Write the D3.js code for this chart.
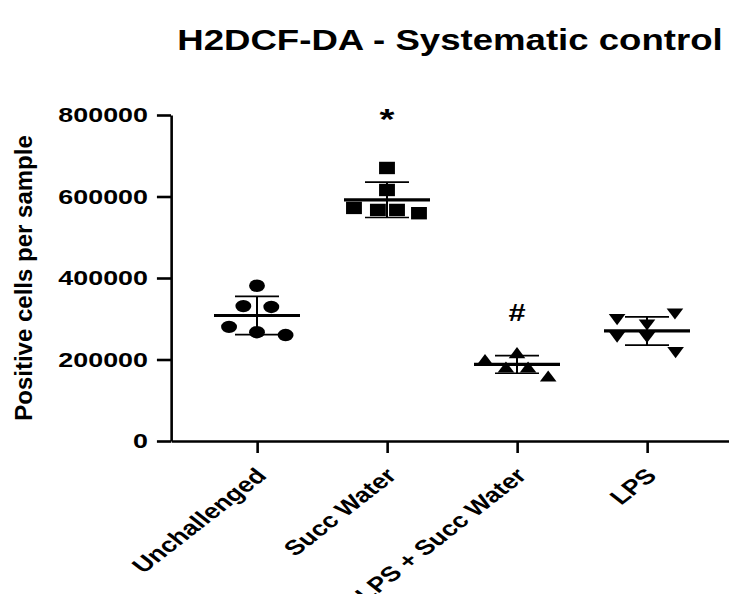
<!DOCTYPE html>
<html>
<head>
<meta charset="utf-8">
<script src="https://cdn.jsdelivr.net/npm/d3@7"></script>
<style>
  html, body { margin: 0; padding: 0; background: #fff; }
  svg { display: block; }
  text { font-family: "Liberation Sans", Arial, sans-serif; font-weight: bold; fill: #000; }
  .axis path, .axis line { stroke: #000; stroke-width: 2.6px; vector-effect: non-scaling-stroke; fill: none; }
  .bar { stroke: #000; vector-effect: non-scaling-stroke; fill: none; }
</style>
</head>
<body>
<svg id="chart" width="729" height="594"></svg>
<script>
// ---------- data ----------
const title = "H2DCF-DA - Systematic control";
const yLabel = "Positive cells per sample";
const categories = ["Unchallenged", "Succ Water", "LPS + Succ Water", "LPS"];
const yTicks = [0, 200000, 400000, 600000, 800000];

const unchallenged = [381000, 331000, 329000, 280000, 267000, 260000];
const succWater    = [670000, 616000, 572000, 567000, 567000, 559000];
const lpsSuccWater = [217000, 200000, 181600, 181600, 159500];
const lps          = [311700, 298000, 284700, 255000, 254000, 217000];

// horizontal scatter offsets, in category-step units
const unchallengedJitter = [0, -0.105, 0.11, -0.215, 0, 0.22];
const succWaterJitter    = [0, 0, -0.254, -0.07, 0.077, 0.246];
const lpsSuccWaterJitter = [0, -0.246, -0.085, 0.085, 0.24];
const lpsJitter          = [0.215, -0.23, 0, -0.23, 0, 0.22];

const markerShapes = ["circle", "square", "triangle", "triangleDown"];
const annotationLabels = ["", "*", "#", ""];
const annotationLevels = [null, 792000, 315000, null];

const groups = [
  { cat: categories[0], values: unchallenged, jitter: unchallengedJitter, shape: markerShapes[0] },
  { cat: categories[1], values: succWater,    jitter: succWaterJitter,    shape: markerShapes[1] },
  { cat: categories[2], values: lpsSuccWater, jitter: lpsSuccWaterJitter, shape: markerShapes[2] },
  { cat: categories[3], values: lps,          jitter: lpsJitter,          shape: markerShapes[3] }
];

// ---------- layout ----------
const W = 729, H = 594;
const SX = 1.28;              // horizontal stretch of the original figure
const gx = v => v / SX;       // real px -> stretched-group px

const svg = d3.select("#chart");
svg.append("rect").attr("width", W).attr("height", H).attr("fill", "#fff");
const g = svg.append("g").attr("transform", `scale(${SX},1)`);

const x = d3.scalePoint().domain(categories).range([gx(171), gx(733)]).padding(0.6615);
const y = d3.scaleLinear().domain([0, 800000]).range([441, 115]);

// title
g.append("text")
  .attr("x", (gx(171) + gx(729)) / 2)
  .attr("y", 50)
  .attr("text-anchor", "middle")
  .style("font-size", "28.6px")
  .text(title);

// y axis
const yAxisG = g.append("g").attr("class", "axis")
  .attr("transform", `translate(${gx(171)},0)`)
  .call(d3.axisLeft(y).tickValues(yTicks).tickFormat(d3.format("d"))
    .tickSize(11).tickSizeOuter(0).tickPadding(7));
yAxisG.selectAll(".tick text").style("font-size", "21px");

// x axis
const xAxisG = g.append("g").attr("class", "axis")
  .attr("transform", `translate(0,${y(0)})`)
  .call(d3.axisBottom(x).tickSize(12).tickSizeOuter(0));
xAxisG.selectAll(".tick text")
  .attr("x", 0).attr("y", 0).attr("dy", 0)
  .attr("text-anchor", "end")
  .attr("transform", "translate(8,36) rotate(-45)")
  .style("font-size", "21px");
svg.selectAll(".axis text").attr("fill", "#000");

// y label (not stretched)
svg.append("text")
  .attr("transform", `translate(32,${(115 + 441) / 2}) rotate(-90)`)
  .attr("text-anchor", "middle")
  .style("font-size", "24px")
  .text(yLabel);

// markers
const S = 12.4;  // marker size in group units
function markerPath(shape) {
  const h = S / 2;
  if (shape === "circle") return d3.symbol(d3.symbolCircle, Math.PI * h * h)();
  if (shape === "square") return `M${-h},${-h}H${h}V${h}H${-h}Z`;
  const th = 11.2 / 2;
  if (shape === "triangle") return `M0,${-th}L${h + 0.3},${th}L${-h - 0.3},${th}Z`;
  return `M0,${th}L${h + 0.3},${-th}L${-h - 0.3},${-th}Z`;
}

groups.forEach(grp => {
  const cx = x(grp.cat);
  g.append("g").selectAll("path")
    .data(grp.values)
    .join("path")
    .attr("d", markerPath(grp.shape))
    .attr("transform", (d, i) => `translate(${cx + grp.jitter[i] * x.step()},${y(d)})`)
    .attr("fill", "#000");

  const m = d3.mean(grp.values), sd = d3.deviation(grp.values);
  const bars = g.append("g");
  const meanHalf = gx(43), capHalf = gx(22);
  bars.append("line").attr("class", "bar")
    .attr("x1", cx).attr("x2", cx).attr("y1", y(m + sd)).attr("y2", y(m - sd))
    .style("stroke-width", "2px");
  [m + sd, m - sd].forEach(v => {
    bars.append("line").attr("class", "bar")
      .attr("x1", cx - capHalf).attr("x2", cx + capHalf).attr("y1", y(v)).attr("y2", y(v))
      .style("stroke-width", "1.7px");
  });
  bars.append("line").attr("class", "bar")
    .attr("x1", cx - meanHalf).attr("x2", cx + meanHalf).attr("y1", y(m)).attr("y2", y(m))
    .style("stroke-width", "3.2px");
});

// significance annotations
categories.forEach((c, i) => {
  if (!annotationLabels[i]) return;
  g.append("text")
    .attr("x", x(c))
    .attr("y", y(annotationLevels[i]))
    .attr("text-anchor", "middle")
    .attr("dominant-baseline", "central")
    .style("font-size", annotationLabels[i] === "*" ? "30px" : "24px")
    .text(annotationLabels[i]);
});
</script>
</body>
</html>
